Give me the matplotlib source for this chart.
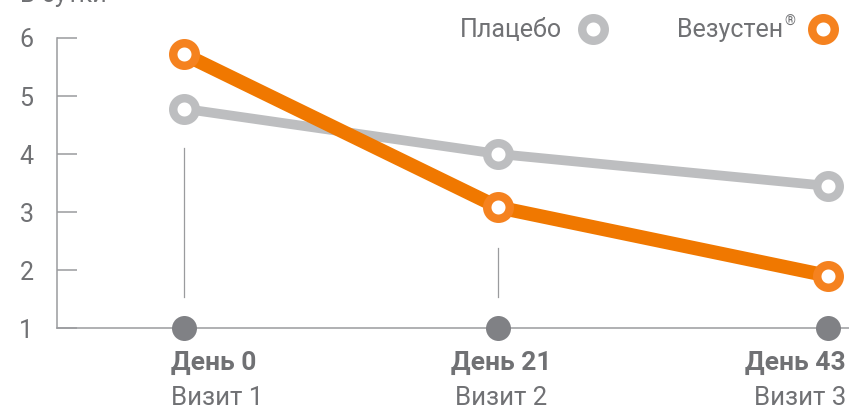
import matplotlib
matplotlib.use("Agg")
import matplotlib.pyplot as plt
from matplotlib.lines import Line2D

plt.rcParams["font.family"] = ["Roboto", "DejaVu Sans"]

# data
days = [0, 21, 43]
day_labels = ["День 0", "День 21", "День 43"]
visit_labels = ["Визит 1", "Визит 2", "Визит 3"]
placebo = [4.78, 4.0, 3.45]
vezusten = [5.72, 3.08, 1.9]
yticks = [1, 2, 3, 4, 5, 6]

ORANGE = "#f07800"
ORANGE_RING = "#f5821f"
GREY_LINE = "#bdbec0"
AXIS = "#9a9b9e"
DOT = "#808185"
TEXT = "#707174"

fig = plt.figure(figsize=(8.49, 4.11), dpi=100)
ax = fig.add_axes([57 / 849, 1 - 328 / 411, 1 - 57 / 849, (328 - 38) / 411])
ax.set_xlim(-8.48, 44.42)
ax.set_ylim(1, 6)

for s in ["top", "right"]:
    ax.spines[s].set_visible(False)
for s in ["left", "bottom"]:
    ax.spines[s].set_color(AXIS)
    ax.spines[s].set_linewidth(1.1)

ax.set_yticks(yticks)
ax.set_yticklabels([str(t) for t in yticks])
ax.tick_params(axis="y", direction="in", length=14.5, width=1.1, color=AXIS,
               pad=17, labelsize=18, labelcolor=TEXT)
ax.set_xticks([])

# thin connector lines above the visit dots
ax.plot([days[0], days[0]], [1.53, 4.1], color=AXIS, lw=0.9, zorder=1)
ax.plot([days[1], days[1]], [1.53, 2.38], color=AXIS, lw=0.9, zorder=1)

# visit dots on the x axis
ax.plot(days, [1] * len(days), "o", ms=18, color=DOT, mec="none",
        clip_on=False, zorder=3)

ring = dict(marker="o", ms=16.2, mew=6.1, mfc="white", clip_on=False)
ax.plot(days, placebo, color=GREY_LINE, lw=7, mec=GREY_LINE, zorder=4,
        solid_capstyle="round", **ring)
ax.plot(days, vezusten, color=ORANGE, lw=10, mec=ORANGE_RING, zorder=5,
        solid_capstyle="round", **ring)

# x labels under dots
has = ["left", "center", "right"]
dx = [-9.5, 2, 13]
for d, top, bot, ha, off in zip(days, day_labels, visit_labels, has, dx):
    ax.annotate(top, (d, 1), xytext=(off, -25.5), textcoords="offset points",
                ha=ha, va="center", fontsize=19, fontweight="bold",
                color=TEXT, annotation_clip=False)
    ax.annotate(bot, (d, 1), xytext=(off, -50.5), textcoords="offset points",
                ha=ha, va="center", fontsize=18.5, color=TEXT,
                annotation_clip=False)

# y caption, cut off by the top edge in the original
fig.text(20 / 849, 1 - 2 / 411, "В сутки", fontsize=18, color=TEXT,
         ha="left", va="baseline")

# legend
fig.text(562 / 849, 1 - 37 / 411, "Плацебо", fontsize=18, color=TEXT,
         ha="right", va="baseline")
fig.add_artist(Line2D([593 / 849], [1 - 29 / 411], transform=fig.transFigure,
                      mec=GREY_LINE, **ring))
fig.text(783 / 849, 1 - 37 / 411, "Везустен", fontsize=18, color=TEXT,
         ha="right", va="baseline")
fig.text(784 / 849, 1 - 26 / 411, "®", fontsize=10, color=TEXT,
         ha="left", va="baseline")
fig.add_artist(Line2D([823 / 849], [1 - 29 / 411], transform=fig.transFigure,
                      mec=ORANGE_RING, **ring))

fig.savefig("out.png", dpi=100)
